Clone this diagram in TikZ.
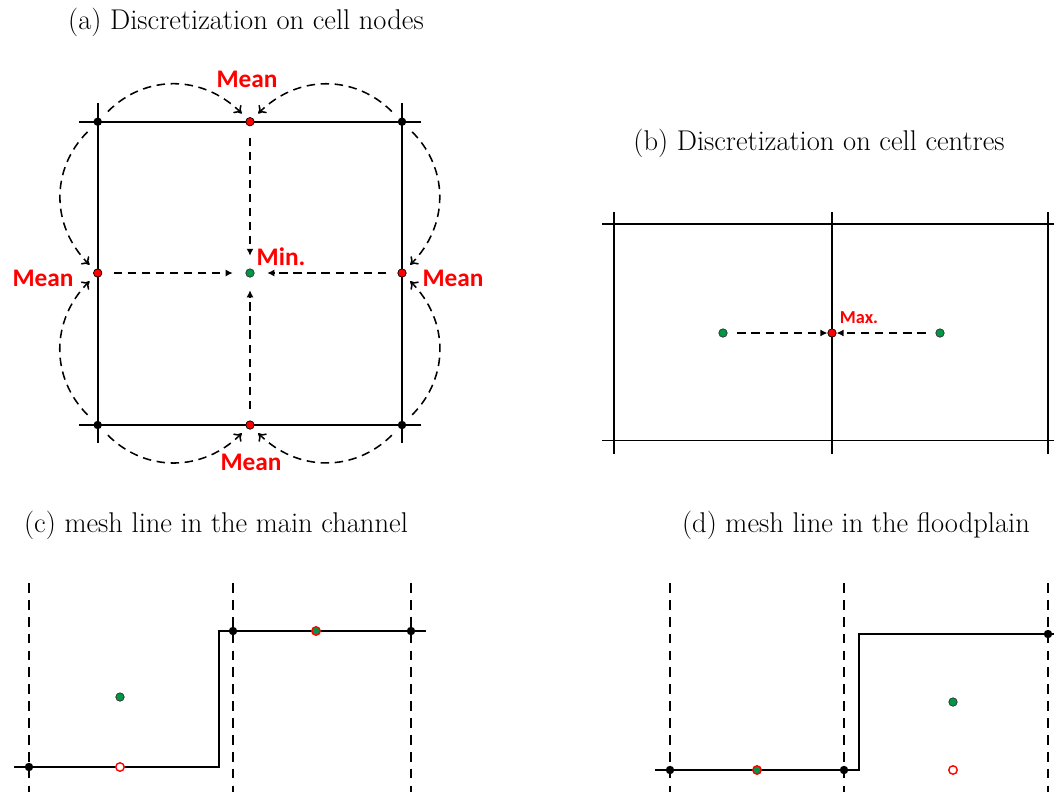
\documentclass[tikz,border=0pt]{standalone}
\usepackage{fontspec}
\usepackage{tikz}
\usetikzlibrary{arrows.meta, positioning, calc}
\newfontfamily\lblfont{Carlito}
\definecolor{mkred}{RGB}{255,0,0}
\definecolor{mkgreen}{RGB}{0,150,70}
\tikzset{
  cnode/.style={circle, fill=black, inner sep=0pt, minimum size=6pt},
  rnode/.style={circle, draw=black, fill=mkred, line width=0.5pt, inner sep=0pt, minimum size=6pt},
  gnode/.style={circle, draw=black!80, fill=mkgreen, line width=0.5pt, inner sep=0pt, minimum size=6pt},
  ropen/.style={circle, draw=mkred, fill=white, line width=1pt, inner sep=0pt, minimum size=6pt},
  gred/.style={circle, draw=mkred, fill=mkgreen, line width=1pt, inner sep=0pt, minimum size=6pt},
  mesh/.style={line width=1.2pt},
  cellb/.style={line width=1pt, dash pattern=on 7pt off 5pt},
  curv/.style={line width=1.1pt, dash pattern=on 6pt off 4pt, -{To[length=5pt,width=8pt]},
    shorten <=7pt, shorten >=5pt},
  flow/.style={line width=1.1pt, dash pattern=on 6pt off 4pt, -{Latex[length=5pt,width=5pt]}},
  ttl/.style={font=\fontsize{20.3}{24}\selectfont},
  lbl/.style={font=\lblfont\bfseries\fontsize{18}{20}\selectfont, text=mkred, inner sep=0pt}
}

\begin{document}
\begin{tikzpicture}[x=0.025cm, y=-0.025cm]
\useasboundingbox (0,0) rectangle (1054,792);

%--- (a) Discretization on cell nodes ---
\node[ttl] (ta) at (246,22) {(a) Discretization on cell nodes};
% cell edges
\foreach \y in {121.7,425} { \draw[mesh] (79,\y) -- (421,\y); }
\foreach \x in {97.7,402} { \draw[mesh] (\x,103) -- (\x,443); }
% corner nodes
\node[cnode] (a-tl) at (97.7,121.7) {};
\node[cnode] (a-tr) at (402,121.7) {};
\node[cnode] (a-bl) at (97.7,425) {};
\node[cnode] (a-br) at (402,425) {};
% edge midpoints and centre
\node[rnode] (a-t) at (250,121.7) {};
\node[rnode] (a-l) at (97.7,273) {};
\node[rnode] (a-r) at (402,273) {};
\node[rnode] (a-b) at (250,425) {};
\node[gnode] (a-c) at (250,273) {};
% labels
\node[lbl] (mean-t) at (247,79) {Mean};
\node[lbl] (mean-l) at (43,278) {Mean};
\node[lbl] (mean-r) at (453,278) {Mean};
\node[lbl] (mean-b) at (251,462) {Mean};
\node[lbl] (min) at (281,257) {Min.};
% corner to midpoint
\draw[curv] (a-tl) to[bend left=45, looseness=1.1] (a-t);
\draw[curv] (a-tr) to[bend right=45, looseness=1.1] (a-t);
\draw[curv] (a-tl) to[bend right=45, looseness=1.1] (a-l);
\draw[curv] (a-bl) to[bend left=45, looseness=1.1] (a-l);
\draw[curv] (a-tr) to[bend left=45, looseness=1.1] (a-r);
\draw[curv] (a-br) to[bend right=45, looseness=1.1] (a-r);
\draw[curv] (a-bl) to[bend right=45, looseness=1.1] (a-b);
\draw[curv] (a-br) to[bend left=45, looseness=1.1] (a-b);
% midpoint to centre
\foreach \n in {a-t,a-l,a-r,a-b} { \draw[flow, shorten <=8pt, shorten >=9pt] (\n) -- (a-c); }

%--- (b) Discretization on cell centres ---
\node[ttl] (tb) at (819,143) {(b) Discretization on cell centres};
\foreach \y in {224,440.7} { \draw[line width=1.1pt] (602,\y) -- (1054,\y); }
\foreach \x in {614,832,1048} { \draw[line width=1.1pt] (\x,212) -- (\x,454); }
\node[gnode] (b-l) at (723,333) {};
\node[rnode] (b-m) at (832,333) {};
\node[gnode] (b-r) at (940,333) {};
\node[lbl, font=\lblfont\bfseries\fontsize{13}{15}\selectfont] (max) at (859,318) {Max.};
\draw[flow, shorten <=7pt] (b-l) -- (b-m);
\draw[flow, shorten <=7pt] (b-r) -- (b-m);

%--- (c) mesh line in the main channel ---
\node[ttl] (tc) at (216,525) {(c) mesh line in the main channel};
\foreach \x in {29,233,411} { \draw[cellb] (\x,583) -- (\x,792); }
\draw[mesh] (14,767) -- (219,767) -- (219,631) -- (426,631);
\node[cnode] (c-1) at (29,767) {};
\node[cnode] (c-2) at (233,631) {};
\node[cnode] (c-3) at (411,631) {};
\node[ropen] (c-lo) at (120,767) {};
\node[gnode] (c-cl) at (120,697) {};
\node[gred] (c-up) at (316,631) {};

%--- (d) mesh line in the floodplain ---
\node[ttl] (td) at (856,525) {(d) mesh line in the floodplain};
\foreach \x in {670,844,1048} { \draw[cellb] (\x,583) -- (\x,792); }
\draw[mesh] (655,770) -- (859,770) -- (859,634) -- (1054,634);
\node[cnode] (d-1) at (670,770) {};
\node[cnode] (d-2) at (844,770) {};
\node[cnode] (d-3) at (1048,634) {};
\node[gred] (d-lo) at (757,770) {};
\node[gnode] (d-cr) at (953,702) {};
\node[ropen] (d-rb) at (953,770) {};
\end{tikzpicture}
\end{document}
